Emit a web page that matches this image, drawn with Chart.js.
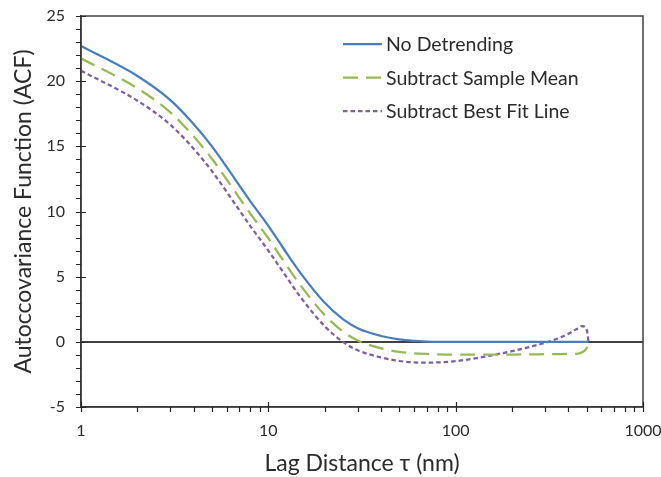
<!DOCTYPE html>
<html><head><meta charset="utf-8">
<script src="https://cdn.jsdelivr.net/npm/chart.js@4.4.1/dist/chart.umd.min.js"></script>
<style>html,body{margin:0;padding:0;background:#fff;}#wrap{width:661px;height:477px;}</style>
</head><body><div id="wrap"><canvas id="c" width="661" height="477"></canvas></div>
<script>
// ---- data ----
const lags = [1,2,3,4,5,6,7,8,9,10,12,15,20,25,30,40,50,60,70,80,100,130,160,200,250,300,350,400,450,470,490,500,506,512];
const noDetrending = [22.7,20.4,18.55,16.7,15.0,13.4,12.0,10.8,9.8,8.9,7.2,5.2,3.0,1.75,1.05,0.45,0.18,0.07,0.02,0,0,0,0,0,0,0,0,0,0,0,0,0,0,0];
const subtractSampleMean = [21.75,19.45,17.6,15.75,14.05,12.45,11.05,9.85,8.85,7.95,6.25,4.25,2.05,0.8,0.1,-0.5,-0.77,-0.88,-0.93,-0.96,-0.98,-0.99,-0.99,-0.98,-0.96,-0.95,-0.94,-0.93,-0.9,-0.82,-0.65,-0.5,-0.3,0];
const subtractBestFitLine = [20.8,18.5,16.65,14.8,13.1,11.5,10.1,8.9,7.9,7.0,5.35,3.35,1.2,0.0,-0.65,-1.2,-1.47,-1.58,-1.6,-1.58,-1.48,-1.25,-1.0,-0.72,-0.38,-0.08,0.25,0.62,1.05,1.2,1.15,0.95,0.6,0];
const seriesNames = ['No Detrending','Subtract Sample Mean','Subtract Best Fit Line'];
const xTickLabels = [1,10,100,1000];
const yTickLabels = [-5,0,5,10,15,20,25];
const xTitle = 'Lag Distance \u03c4 (nm)';
const yTitle = 'Autoccovariance Function (ACF)';

const colors = ['#4A7EBB','#98B954','#7D60A0'];
const dashes = [[],[15,8],[4.5,3]];
const seriesValues = [noDetrending, subtractSampleMean, subtractBestFitLine];
const textColor = '#2b2b2b';

Chart.defaults.font.family = 'Lato';

const frameTicks = {
  id:'frameTicks',
  afterDraw(chart){
    const {ctx, chartArea:a, scales:{x,y}} = chart;
    ctx.save();
    ctx.strokeStyle = '#404040'; ctx.lineWidth = 1.5;
    ctx.strokeRect(a.left, a.top, a.right-a.left, a.bottom-a.top);
    ctx.strokeStyle = '#262626'; ctx.lineWidth = 1.2;
    ctx.beginPath();
    for (let v = -5; v <= 25; v++) {
      const py = Math.round(y.getPixelForValue(v)) + 0.5;
      const major = v % 5 === 0;
      ctx.moveTo(a.left - 5, py); ctx.lineTo(a.left + (major ? 5 : 0), py);
    }
    for (let d = 1; d <= 1000; d *= 10) {
      for (let k = 1; k < 10; k++) {
        const v = d * k; if (v > 1000) break;
        const px = Math.round(x.getPixelForValue(v)) + 0.5;
        if (k === 1) { ctx.moveTo(px, a.bottom + 5); ctx.lineTo(px, a.bottom - 5); }
        else { ctx.moveTo(px, a.bottom); ctx.lineTo(px, a.bottom + 5); }
      }
    }
    ctx.stroke();
    // legend
    const rows = [44, 77.5, 111];
    chart.data.datasets.forEach((ds, i) => {
      ctx.save();
      ctx.strokeStyle = ds.borderColor; ctx.lineWidth = ds.borderWidth;
      ctx.setLineDash(ds.borderDash || []);
      ctx.beginPath(); ctx.moveTo(343, rows[i]); ctx.lineTo(382, rows[i]); ctx.stroke();
      ctx.restore();
      ctx.fillStyle = textColor; ctx.font = '19.5px Lato';
      ctx.textBaseline = 'middle'; ctx.textAlign = 'left';
      ctx.fillText(ds.label, 386, rows[i] + 1);
    });
    ctx.restore();
  }
};

new Chart(document.getElementById('c'), {
  type:'line',
  data:{
    datasets: seriesNames.map((n, i) => ({
      label:n,
      data: lags.map((l, j) => ({x:l, y:seriesValues[i][j]})),
      borderColor: colors[i], backgroundColor: colors[i],
      borderWidth: 2.25, borderDash: dashes[i],
      pointRadius: 0, fill:false, cubicInterpolationMode:'monotone'
    }))
  },
  options:{
    responsive:false, animation:false, devicePixelRatio:1,
    layout:{padding:{top:16,right:18,left:0,bottom:0}},
    plugins:{legend:{display:false}, tooltip:{enabled:false}},
    scales:{
      x:{type:'logarithmic', min:1, max:1000,
        afterBuildTicks: s => { s.ticks = xTickLabels.map(v => ({value:v})); },
        afterFit: s => { s.height = 70; s.paddingLeft = 0; s.paddingRight = 0; },
        ticks:{autoSkip:false, maxRotation:0, padding:14, color:textColor, font:{size:16},
          callback: v => String(v)},
        grid:{display:false, drawTicks:false},
        border:{display:true, color:'#262626', width:1.5},
        title:{display:true, text:xTitle, color:textColor, font:{size:23}, padding:{top:0,bottom:0}}
      },
      y:{min:-5, max:25,
        afterBuildTicks: s => { s.ticks = yTickLabels.map(v => ({value:v})); },
        afterFit: s => { s.width = 81; s.paddingTop = 0; s.paddingBottom = 0; },
        ticks:{padding:16, color:textColor, font:{size:16}},
        grid:{drawTicks:false, lineWidth:2,
          color: c => (c.tick && c.tick.value === 0) ? '#404040' : 'rgba(0,0,0,0)'},
        border:{display:true, color:'#262626', width:1.5},
        title:{display:true, text:yTitle, color:textColor, font:{size:23}, padding:{top:10,bottom:0}}
      }
    }
  },
  plugins:[frameTicks]
});
</script>
</body></html>
